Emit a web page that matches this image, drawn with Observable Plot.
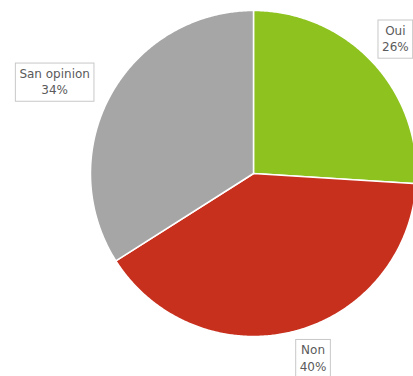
<!DOCTYPE html>
<html>
<head>
<meta charset="utf-8">
<script src="https://cdn.jsdelivr.net/npm/d3@7"></script>
<script src="https://cdn.jsdelivr.net/npm/@observablehq/plot@0.6"></script>
<style>
  html, body { margin: 0; padding: 0; background: #fff; overflow: hidden; }
  #chart svg { display: block; }
</style>
</head>
<body>
<div id="chart"></div>
<script>
// ---- data ----
const categories = ["Oui", "Non", "San opinion"];
const values = [26, 40, 34];
const percentLabels = ["26%", "40%", "34%"];

// ---- styling / layout ----
const colors = ["#8dc21f", "#c8301e", "#a6a6a6"];
const labelOffset = { "Oui": [23, -24], "Non": [19, 26], "San opinion": [-56, -14] }; // px from slice edge
const W = 413, H = 376, R = 163, CX = 253, CY = 173;

const arcs = d3.pie().sort(null).value(d => d.value)(
  categories.map((c, i) => ({ cat: c, value: values[i], pct: percentLabels[i] }))
);

// slice polygons in unit-circle coordinates (y up)
const slicePts = [];
for (const a of arcs) {
  const cat = a.data.cat;
  slicePts.push({ cat, x: 0, y: 0 });
  const n = Math.max(2, Math.ceil((a.endAngle - a.startAngle) / (Math.PI / 360)));
  for (let k = 0; k <= n; k++) {
    const t = a.startAngle + (a.endAngle - a.startAngle) * k / n;
    slicePts.push({ cat, x: Math.sin(t), y: Math.cos(t) });
  }
}

const labelData = arcs.map(a => {
  const m = (a.startAngle + a.endAngle) / 2;
  return { cat: a.data.cat, pct: a.data.pct, x: Math.sin(m), y: Math.cos(m),
           dx: labelOffset[a.data.cat][0], dy: labelOffset[a.data.cat][1] };
});

const chart = Plot.plot({
  width: W, height: H,
  margin: 0,
  style: { background: "#fff", overflow: "hidden" },
  x: { domain: [-1, 1], range: [CX - R, CX + R], axis: null },
  y: { domain: [-1, 1], range: [CY + R, CY - R], axis: null },
  color: { domain: categories, range: colors },
  marks: [
    Plot.line(slicePts, { x: "x", y: "y", z: "cat", fill: "cat", stroke: "#fff", strokeWidth: 1.5, curve: "linear-closed" }),
    ...labelData.map(d => Plot.text([d], {
      x: "x", y: "y", dx: d.dx, dy: d.dy,
      text: e => e.cat + "\n" + e.pct,
      lineHeight: 1.35, fontSize: 12, fill: "#5a5a5a",
      fontFamily: "DejaVu Sans, sans-serif",
      textAnchor: "middle", lineAnchor: "middle",
      className: "pie-label"
    }))
  ]
});
document.getElementById("chart").appendChild(chart);

// draw label boxes around the text
chart.querySelectorAll("g.pie-label text, g[aria-label='text'] text").forEach(t => {
  const b = t.getBBox();
  const tr = t.getAttribute("transform");
  const r = document.createElementNS("http://www.w3.org/2000/svg", "rect");
  r.setAttribute("x", b.x - 4);
  r.setAttribute("y", b.y - 4);
  r.setAttribute("width", b.width + 8);
  r.setAttribute("height", b.height + 8);
  r.setAttribute("fill", "#fff");
  r.setAttribute("stroke", "#c8c8c8");
  r.setAttribute("stroke-width", "1");
  if (tr) r.setAttribute("transform", tr);
  t.parentNode.insertBefore(r, t);
});
</script>
</body>
</html>
